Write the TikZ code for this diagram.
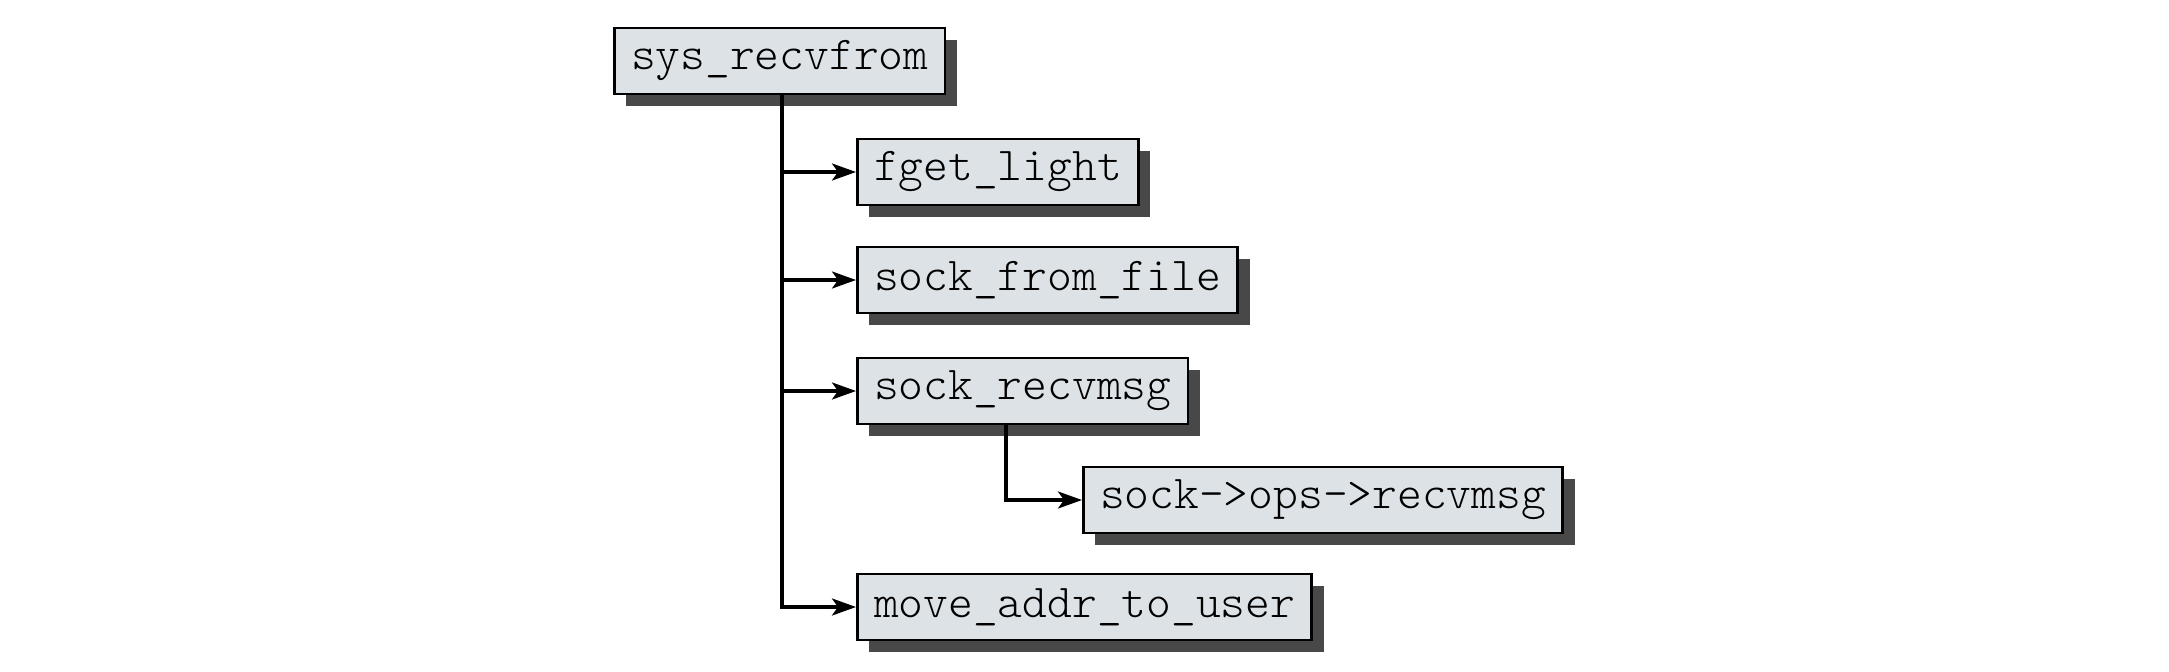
\documentclass[tikz,border=0pt]{standalone}
\usepackage{fontspec}
\setmonofont{Latin Modern Mono Light}
\usetikzlibrary{arrows.meta,shadows}
\definecolor{boxfill}{HTML}{DCE2E5}
\definecolor{shadowc}{HTML}{484848}
\begin{document}
\begin{tikzpicture}[x=0.5pt,y=-0.5pt,
  fn/.style={draw=black,line width=1.4pt,fill=boxfill,anchor=west,
    font=\ttfamily\fontsize{23.6}{26}\selectfont,
    inner xsep=8.3pt,inner ysep=0pt,minimum height=33pt,
    drop shadow={shadow xshift=6pt,shadow yshift=-6pt,fill=shadowc,opacity=1}},
  arr/.style={line width=1.6pt,-{Stealth[length=12pt,width=8.5pt,inset=3pt]}}]
\useasboundingbox (0,0) rectangle (2169,671);
\node[fn] (sys)  at (613,61)  {sys\_recvfrom};
\node[fn] (fget) at (856,172) {fget\_light};
\node[fn] (sff)  at (856,280) {sock\_from\_file};
\node[fn] (srm)  at (856,391) {sock\_recvmsg};
\node[fn] (ops)  at (1082,500) {sock->ops->recvmsg};
\node[fn] (mau)  at (856,607) {move\_addr\_to\_user};
\coordinate (t) at (782,0);
\coordinate (s) at (1006,0);
\draw[arr] (sys.south -| t) |- (fget.west);
\draw[arr] (sys.south -| t) |- (sff.west);
\draw[arr] (sys.south -| t) |- (srm.west);
\draw[arr] (sys.south -| t) |- (mau.west);
\draw[arr] (srm.south -| s) |- (ops.west);
\end{tikzpicture}
\end{document}
